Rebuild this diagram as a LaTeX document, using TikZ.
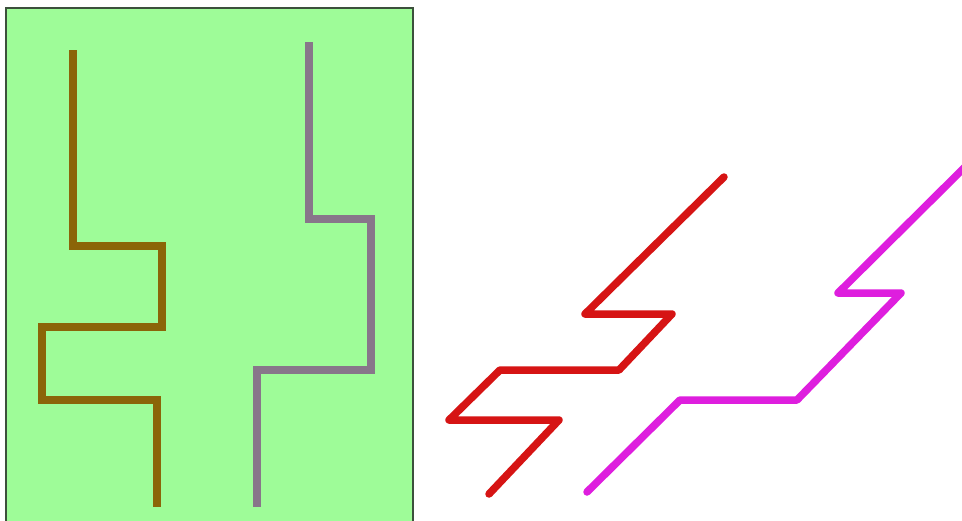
\documentclass[tikz,border=0pt]{standalone}
\definecolor{boxgreen}{RGB}{158,252,152}
\definecolor{boxedge}{RGB}{60,80,60}
\definecolor{brownline}{RGB}{139,101,8}
\definecolor{greyline}{RGB}{136,118,138}
\definecolor{redline}{RGB}{214,20,20}
\definecolor{magline}{RGB}{222,30,222}
\tikzset{
  zig/.style={line width=7.5pt, line join=miter, line cap=butt},
  slant/.style={line width=7.5pt, line join=round, line cap=round}
}
\begin{document}
\begin{tikzpicture}[x=1pt,y=-1pt]
\useasboundingbox (0,0) rectangle (962,520);
\clip (0,0) rectangle (962,520);
\fill[white] (0,0) rectangle (962,520);
\draw[fill=boxgreen, draw=boxedge, line width=1.2pt] (6,8) rectangle (413,522);
\draw[zig, brownline] (73,50) -- (73,246) -- (162,246) -- (162,327) -- (42,327) -- (42,400) -- (157,400) -- (157,507);
\draw[zig, greyline] (309,42) -- (309,219) -- (371,219) -- (371,370) -- (257,370) -- (257,507);
\draw[slant, redline] (724,177) -- (585,314) -- (672,314) -- (619,370) -- (500,370) -- (449,420) -- (559,420) -- (489,494);
\draw[slant, magline] (972,160) -- (838,293) -- (901,293) -- (797,400) -- (680,400) -- (587,492);
\end{tikzpicture}
\end{document}
